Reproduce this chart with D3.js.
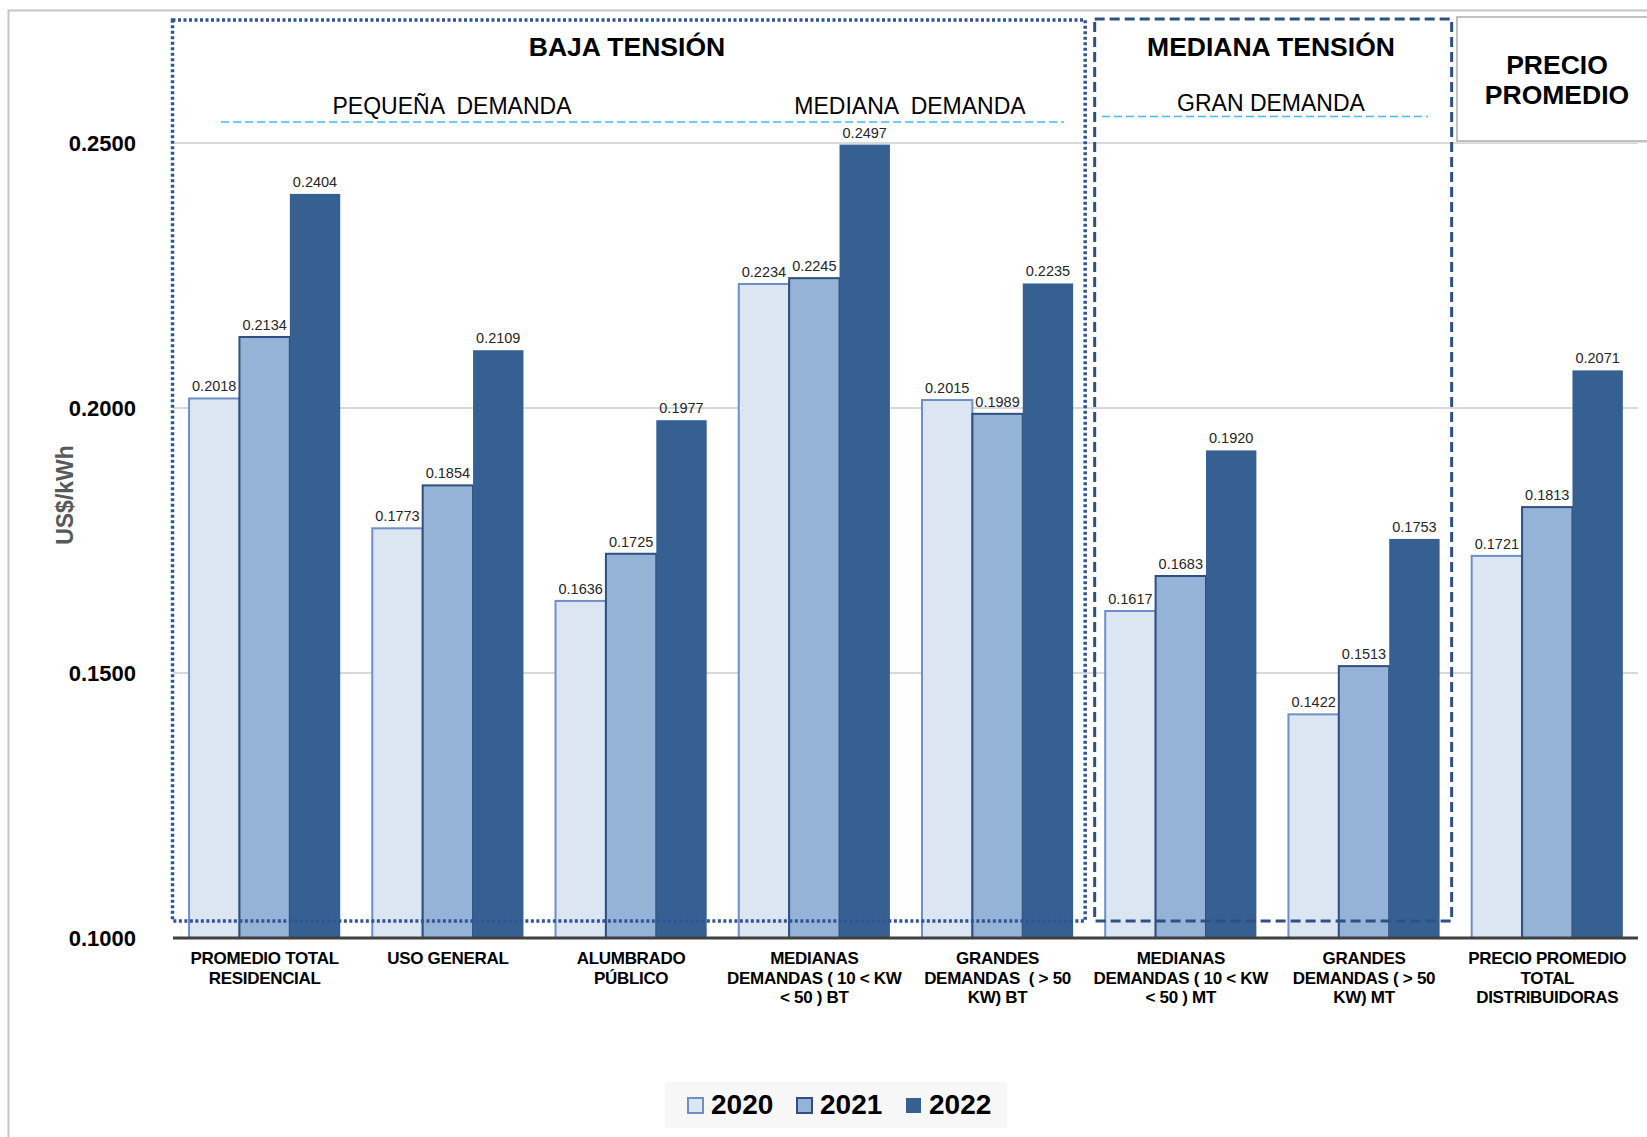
<!DOCTYPE html>
<html>
<head>
<meta charset="utf-8">
<script src="https://cdn.jsdelivr.net/npm/d3@7"></script>
<style>
  html, body { margin: 0; padding: 0; background: #fff; }
  svg { display: block; font-family: "Liberation Sans", Arial, sans-serif; }
</style>
</head>
<body>
<svg id="canvas"></svg>
<script>
const width = 1647;
const height = 1137;

// categorias (una linea por elemento)
const categories = [
  ["PROMEDIO TOTAL", "RESIDENCIAL"],
  ["USO GENERAL"],
  ["ALUMBRADO", "PÚBLICO"],
  ["MEDIANAS", "DEMANDAS ( 10 < KW", "< 50 ) BT"],
  ["GRANDES", "DEMANDAS  ( > 50", "KW) BT"],
  ["MEDIANAS", "DEMANDAS ( 10 < KW", "< 50 ) MT"],
  ["GRANDES", "DEMANDAS ( > 50", "KW) MT"],
  ["PRECIO PROMEDIO", "TOTAL", "DISTRIBUIDORAS"]
];
const years = ["2020", "2021", "2022"];
const values2020 = [0.2018, 0.1773, 0.1636, 0.2234, 0.2015, 0.1617, 0.1422, 0.1721];
const values2021 = [0.2134, 0.1854, 0.1725, 0.2245, 0.1989, 0.1683, 0.1513, 0.1813];
const values2022 = [0.2404, 0.2109, 0.1977, 0.2497, 0.2235, 0.1920, 0.1753, 0.2071];
const yTicks = [0.10, 0.15, 0.20, 0.25];

const series = [values2020, values2021, values2022];
const fills = ["#dce6f2", "#95b3d7", "#376092"];
const strokes = ["#6d8fc6", "#2f4f7e", "#376092"];

const svg = d3.select("svg#canvas")
    .attr("width", width)
    .attr("height", height)
    .attr("viewBox", [0, 0, width, height]);

const x = d3.scaleBand()
    .domain(d3.range(categories.length))
    .range([173.3, 1638.6])
    .paddingInner(0.175)
    .paddingOuter(0.086);

const xs = d3.scaleBand()
    .domain(years)
    .range([0, x.bandwidth()]);

const y = d3.scaleLinear()
    .domain([0.10, 0.25])
    .range([938, 143]);

// marco exterior
svg.append("rect")
    .attr("x", 8.5).attr("y", 10.5)
    .attr("width", width + 20).attr("height", height + 20)
    .attr("fill", "none")
    .attr("stroke", "#c4c4c4")
    .attr("stroke-width", 2);

// lineas de grilla
svg.append("g")
  .selectAll("line")
  .data(yTicks.filter(d => d > 0.1))
  .join("line")
    .attr("x1", 173).attr("x2", 1638)
    .attr("y1", d => y(d)).attr("y2", d => y(d))
    .attr("stroke", "#d9d9d9")
    .attr("stroke-width", 2);

// etiquetas eje y
svg.append("g")
  .selectAll("text")
  .data(yTicks)
  .join("text")
    .attr("x", 136)
    .attr("y", d => y(d))
    .attr("dy", "0.36em")
    .attr("text-anchor", "end")
    .attr("font-size", 22)
    .attr("font-weight", "bold")
    .attr("fill", "#000")
    .text(d => d3.format(".4f")(d));

svg.append("text")
    .attr("transform", "translate(73, 495) rotate(-90)")
    .attr("text-anchor", "middle")
    .attr("font-size", 23)
    .attr("font-weight", "bold")
    .attr("fill", "#595959")
    .text("US$/kWh");

// barras
const group = svg.append("g")
  .selectAll("g")
  .data(categories)
  .join("g")
    .attr("transform", (d, i) => `translate(${x(i)},0)`);

group.selectAll("rect")
  .data((d, i) => series.map((s, k) => ({ year: years[k], k, v: s[i] })))
  .join("rect")
    .attr("x", d => xs(d.year))
    .attr("y", d => y(d.v))
    .attr("width", xs.bandwidth())
    .attr("height", d => y(0.10) - y(d.v))
    .attr("fill", d => fills[d.k])
    .attr("stroke", d => strokes[d.k])
    .attr("stroke-width", d => d.k === 2 ? 0 : 2);

group.selectAll("text.val")
  .data((d, i) => series.map((s, k) => ({ year: years[k], k, v: s[i] })))
  .join("text")
    .attr("class", "val")
    .attr("x", d => xs(d.year) + xs.bandwidth() / 2)
    .attr("y", d => y(d.v) - 7)
    .attr("text-anchor", "middle")
    .attr("font-size", 14.5)
    .attr("fill", "#262626")
    .text(d => d3.format(".4f")(d.v));

// eje x
svg.append("line")
    .attr("x1", 173).attr("x2", 1638)
    .attr("y1", y(0.10)).attr("y2", y(0.10))
    .attr("stroke", "#404040")
    .attr("stroke-width", 3);

svg.append("g")
  .selectAll("text")
  .data(categories)
  .join("text")
    .attr("x", (d, i) => x(i) + x.bandwidth() / 2)
    .attr("y", 964)
    .attr("text-anchor", "middle")
    .attr("font-size", 17)
    .attr("font-weight", "bold")
    .attr("letter-spacing", -0.3)
    .attr("fill", "#000")
    .attr("xml:space", "preserve")
    .style("white-space", "pre")
  .selectAll("tspan")
  .data(d => d)
  .join("tspan")
    .attr("x", function() { return d3.select(this.parentNode).attr("x"); })
    .attr("dy", (d, j) => j === 0 ? 0 : 19.5)
    .text(d => d);

// recuadros de secciones
const bajaLeft = 172.5;
const bajaRight = (x(4) + x.bandwidth() + x(5)) / 2 - 4;
const medLeft = (x(4) + x.bandwidth() + x(5)) / 2 + 5.5;
const medRight = (x(6) + x.bandwidth() + x(7)) / 2 - 4;

svg.append("rect")
    .attr("x", bajaLeft).attr("y", 20)
    .attr("width", bajaRight - bajaLeft).attr("height", 901)
    .attr("fill", "none")
    .attr("stroke", "#2f5597")
    .attr("stroke-width", 3.5)
    .attr("stroke-dasharray", "3,2.5");

svg.append("rect")
    .attr("x", medLeft).attr("y", 19)
    .attr("width", medRight - medLeft).attr("height", 902)
    .attr("fill", "none")
    .attr("stroke", "#2f5083")
    .attr("stroke-width", 3)
    .attr("stroke-dasharray", "10,5");

// recuadro precio promedio
svg.append("rect")
    .attr("x", 1459).attr("y", 19)
    .attr("width", 200).attr("height", 124)
    .attr("fill", "#e0e0e0");
svg.append("rect")
    .attr("x", 1457).attr("y", 17)
    .attr("width", 200).attr("height", 124)
    .attr("fill", "#fff")
    .attr("stroke", "#c0c0c0")
    .attr("stroke-width", 2);

// titulos
const titles = [
  { text: "BAJA TENSIÓN", x: 627, y: 56 },
  { text: "MEDIANA TENSIÓN", x: 1271, y: 56 },
  { text: "PRECIO", x: 1557, y: 74 },
  { text: "PROMEDIO", x: 1557, y: 104 }
];
svg.append("g")
  .selectAll("text")
  .data(titles)
  .join("text")
    .attr("x", d => d.x)
    .attr("y", d => d.y)
    .attr("text-anchor", "middle")
    .attr("font-size", 26.5)
    .attr("font-weight", "bold")
    .attr("fill", "#000")
    .text(d => d.text);

const subtitles = [
  { text: "PEQUEÑA  DEMANDA", x: 452, y: 114 },
  { text: "MEDIANA  DEMANDA", x: 910, y: 114 },
  { text: "GRAN DEMANDA", x: 1271, y: 111 }
];
svg.append("g")
  .selectAll("text")
  .data(subtitles)
  .join("text")
    .attr("x", d => d.x)
    .attr("y", d => d.y)
    .attr("text-anchor", "middle")
    .attr("font-size", 23)
    .attr("fill", "#000")
    .attr("xml:space", "preserve")
    .style("white-space", "pre")
    .text(d => d.text);

const dashLines = [
  { x1: 221, x2: 1064, y: 122 },
  { x1: 1102, x2: 1428, y: 116.5 }
];
svg.append("g")
  .selectAll("line")
  .data(dashLines)
  .join("line")
    .attr("x1", d => d.x1).attr("x2", d => d.x2)
    .attr("y1", d => d.y).attr("y2", d => d.y)
    .attr("stroke", "#3dc0ee")
    .attr("stroke-width", 1.5)
    .attr("stroke-dasharray", "8,4");

// leyenda
const legend = svg.append("g");
legend.append("rect")
    .attr("x", 665).attr("y", 1082)
    .attr("width", 342).attr("height", 46)
    .attr("fill", "#f7f7f7");

const item = legend.selectAll("g")
  .data(years)
  .join("g")
    .attr("transform", (d, i) => `translate(${688 + i * 109},1098)`);

item.append("rect")
    .attr("width", 15).attr("height", 15)
    .attr("fill", (d, i) => fills[i])
    .attr("stroke", (d, i) => strokes[i])
    .attr("stroke-width", (d, i) => i === 2 ? 0 : 2);

item.append("text")
    .attr("x", 23)
    .attr("y", 16)
    .attr("font-size", 28)
    .attr("font-weight", "bold")
    .attr("fill", "#000")
    .text(d => d);
</script>
</body>
</html>
